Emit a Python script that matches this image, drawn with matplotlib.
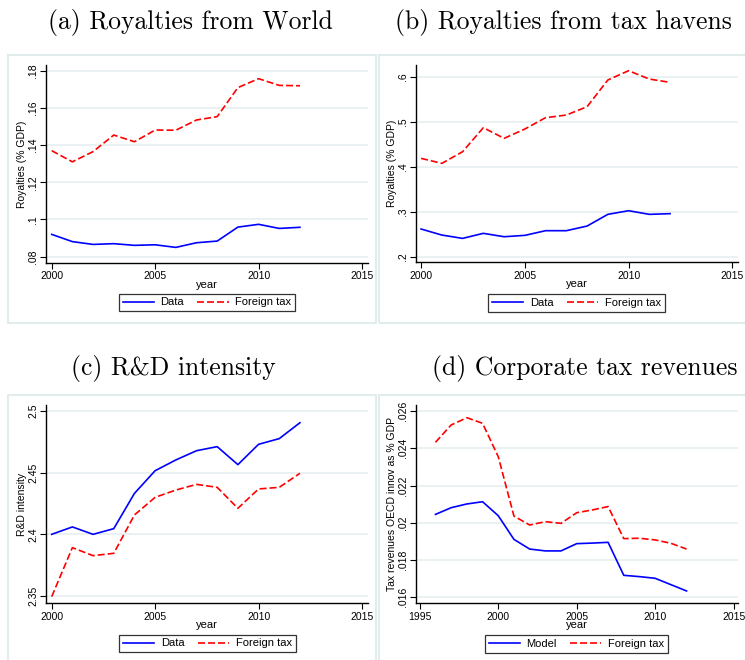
import matplotlib.pyplot as plt
from matplotlib.patches import Rectangle
from matplotlib.ticker import FuncFormatter

W, H = 745, 660

years = list(range(2000, 2013))
years_d = list(range(1996, 2013))

# (a) royalties from world
roy_world_data = [.0920, .0881, .0866, .0870, .0861, .0864, .0850, .0875, .0884, .0959, .0974, .0952, .0958]
roy_world_tax = [.1370, .1310, .1365, .1454, .1418, .1481, .1480, .1535, .1553, .1709, .1757, .1721, .1719]

# (b) royalties from tax havens
roy_haven_data = [.2615, .2481, .2407, .2519, .2444, .2474, .2578, .2578, .2681, .2941, .3022, .2941, .2956]
roy_haven_tax = [.4185, .4074, .4333, .4867, .4630, .4837, .5089, .5148, .5333, .5926, .6133, .5948, .5874]

# (c) R&D intensity
rd_data = [2.4000, 2.4060, 2.4000, 2.4046, 2.4332, 2.4516, 2.4603, 2.4678, 2.4711, 2.4565, 2.4730, 2.4776, 2.4905]
rd_tax = [2.3495, 2.3892, 2.3827, 2.3846, 2.4157, 2.4300, 2.4359, 2.4405, 2.4381, 2.4211, 2.4368, 2.4381, 2.4495]

# (d) corporate tax revenues
ctax_model = [.02045, .02081, .02101, .02113, .02038, .01911, .01859, .01849, .01849, .01888, .01891, .01895,
              .01718, .01711, .01702, .01668, .01634]
ctax_tax = [.02432, .02525, .02564, .02534, .02355, .02036, .01988, .02006, .01997, .02054, .02069, .02087,
            .01915, .01917, .01908, .01890, .01859]

plt.rcParams['font.family'] = ['Liberation Sans', 'DejaVu Sans']

fig = plt.figure(figsize=(W / 100, H / 100), dpi=100)
fig.patch.set_facecolor('white')

border = '#e3ecec'
grid_c = '#e6eff0'


def stata_fmt(v, pos):
    s = f"{v:g}"
    if s.startswith('0.'):
        s = s[1:]
    return s


def box(l, t, r, b):
    fig.patches.append(Rectangle((l / W, 1 - b / H), (r - l) / W, (b - t) / H,
                                 transform=fig.transFigure, facecolor='none',
                                 edgecolor=border, linewidth=1.5, zorder=-1))


def panel(l, t, r, b, x, y1, y2, lab1, xlim, ylim, xticks, yticks, ylabel, title, title_xy,
          ylab_x, leg_xy):
    ax = fig.add_axes([l / W, 1 - b / H, (r - l) / W, (b - t) / H])
    ax.patch.set_alpha(0)
    ax.plot(x, y1, color='#0000ff', lw=1.2, label=lab1)
    ax.plot(x, y2, color='#ff0000', lw=1.2, dashes=(4.2, 1.8), label='Foreign tax')
    ax.set_xlim(xlim)
    ax.set_ylim(ylim)
    ax.set_xticks(xticks)
    ax.set_yticks(yticks)
    ax.yaxis.set_major_formatter(FuncFormatter(stata_fmt))
    for s in ['top', 'right']:
        ax.spines[s].set_visible(False)
    for s in ['left', 'bottom']:
        ax.spines[s].set_linewidth(1.0)
    ax.tick_params(labelsize=7.5, length=4, width=0.8, color='black')
    ax.tick_params(axis='x', pad=2)
    ax.tick_params(axis='y', pad=1.2)
    for tl in ax.get_yticklabels():
        tl.set_rotation(90)
        tl.set_va('center')
    ax.grid(axis='y', color=grid_c, lw=1.2)
    ax.set_axisbelow(True)
    cx = (l + r) / 2
    fig.text(cx / W, 1 - (b + 22) / H, 'year', ha='center', va='center', fontsize=8)
    fig.text(ylab_x / W, 1 - (t + b) / 2 / H, ylabel, rotation=90, ha='center', va='center', fontsize=7.5)
    fig.text(title_xy[0] / W, 1 - title_xy[1] / H, title, ha='center', va='center',
             fontsize=18.5, family='cmr10')
    leg = ax.legend(loc='center', bbox_to_anchor=(leg_xy[0] / W, 1 - leg_xy[1] / H),
                    bbox_transform=fig.transFigure, ncol=2, fontsize=8, frameon=True,
                    fancybox=False, edgecolor='black', handlelength=2.8, columnspacing=1.2,
                    borderpad=0.35, handletextpad=0.6, borderaxespad=0)
    leg.get_frame().set_linewidth(0.9)
    return ax


box(8, 55, 376, 323)
box(379, 55, 760, 323)
box(8, 395, 376, 680)
box(379, 395, 760, 680)

panel(45.7, 65, 368, 263, years, roy_world_data, roy_world_tax, 'Data',
      (1999.71, 2015.29), (.07661, .18306), [2000, 2005, 2010, 2015],
      [.08, .1, .12, .14, .16, .18], 'Royalties (% GDP)', '(a) Royalties from World',
      (190, 22), 22, (207, 302.5))

panel(415.7, 65, 737.7, 262.3, years, roy_haven_data, roy_haven_tax, 'Data',
      (1999.74, 2015.26), (.2 - 5.6 / 450, .6 + 11.7 / 450), [2000, 2005, 2010, 2015],
      [.2, .3, .4, .5, .6], 'Royalties (% GDP)', '(b) Royalties from tax havens',
      (563, 22), 392, (576.7, 303))

panel(45.7, 405, 368, 603.3, years, rd_data, rd_tax, 'Data',
      (1999.71, 2015.29), (2.35 - 7.3 / 3700 * 3 * 1, 2.5 + 6 / 3700 * 3 * 1),
      [2000, 2005, 2010, 2015], [2.35, 2.4, 2.45, 2.5], 'R&D intensity', '(c) R&D intensity',
      (173.5, 368), 22, (207.5, 643.5))

panel(415.7, 405, 737.7, 603.3, years_d, ctax_model, ctax_tax, 'Model',
      (1994.74, 2015.26), (.016 - 6 / 55900 * 3, .026 + 6 / 55900 * 3),
      [1995, 2000, 2005, 2010, 2015], [.016, .018, .02, .022, .024, .026],
      'Tax revenues OECD innov as % GDP', '(d) Corporate tax revenues',
      (585, 368), 392, (576.5, 644))

fig.savefig('out.png', dpi=100)
